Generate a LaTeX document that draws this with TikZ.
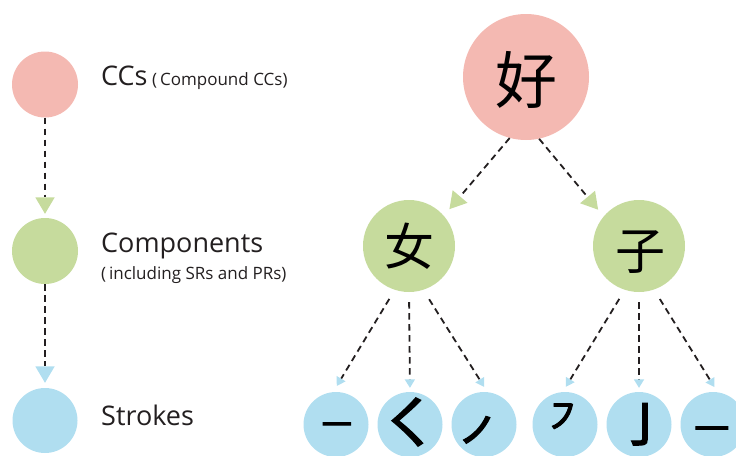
\documentclass[tikz,border=0pt]{standalone}
\usepackage{fontspec}
\setmainfont{Open Sans}
\newfontfamily\cjk{Noto Sans CJK SC}
\newfontfamily\cjkstroke{Noto Sans CJK SC}[FakeBold=2.2]
\usetikzlibrary{arrows.meta}

\definecolor{ccpink}{RGB}{244,185,178}
\definecolor{compgreen}{RGB}{198,219,157}
\definecolor{strokeblue}{RGB}{176,222,240}
\definecolor{inkgray}{RGB}{35,31,32}

\tikzset{
  disc/.style={circle, inner sep=0pt, minimum size=#1, draw=none},
  ccdisc/.style={disc=126pt, fill=ccpink},
  compdisc/.style={disc=92pt, fill=compgreen},
  strokedisc/.style={disc=65pt, fill=strokeblue},
  legpink/.style={disc=66pt, fill=ccpink},
  leggreen/.style={disc=66pt, fill=compgreen},
  legblue/.style={disc=65pt, fill=strokeblue},
  glyph/.style={inner sep=0pt, text=black, font=\cjk\fontsize{#1}{#1}\selectfont},
  strokeglyph/.style={inner sep=0pt, text=black, font=\cjkstroke\fontsize{#1}{#1}\selectfont},
  label/.style={inner sep=0pt, anchor=base west, text=inkgray},
  bigtext/.style={label, font=\fontsize{27}{30}\selectfont},
  smalltext/.style={label, font=\fontsize{17}{20}\selectfont},
  link/.style={draw=inkgray, line width=1.8pt, dash pattern=on 6.5pt off 4.5pt},
  bigtip/.style={-{Triangle[length=16.5pt, width=19.5pt, color=#1, line width=0pt]}},
  smalltip/.style={-{Triangle[length=8.5pt, width=10.5pt, color=#1, line width=0pt]}}
}

\begin{document}
\begin{tikzpicture}[x=1pt, y=-1pt]
  \useasboundingbox (0,0) rectangle (736,455);
  \clip (0,0) rectangle (736,455);

  % ---- legend column ----
  \node[legpink]  (lp) at (45,84.5) {};
  \node[leggreen] (lg) at (45,251) {};
  \node[legblue]  (lb) at (45,420.5) {};

  \draw[link, bigtip=compgreen, shorten >=4pt] (lp.south) -- (lg.north);
  \draw[link, bigtip=strokeblue, shorten >=5pt] (lg.south) -- (lb.north);

  \node[bigtext]   (tcc)    at (101,85)  {CCs};
  \node[smalltext] (tccx)   at (152,85)  {(\,Compound CCs)};
  \node[bigtext]   (tcomp)  at (101,252) {Components};
  \node[smalltext] (tcompx) at (101,279) {(\,including SRs and PRs)};
  \node[bigtext]   (tstr)   at (101,425) {Strokes};

  % ---- character tree ----
  \node[ccdisc]   (hao) at (526,77) {};
  \node[compdisc] (nv)  at (409,246) {};
  \node[compdisc] (zi)  at (639,246) {};

  \node[glyph=62pt] (haoch) at (526,80) {好};
  \node[glyph=50pt] (nvch)  at (409,246) {女};
  \node[glyph=50pt] (zich)  at (640,252) {子};

  \draw[link, bigtip=compgreen, shorten >=8.6pt] (hao.255.7) -- (nv.41.3);
  \draw[link, bigtip=compgreen, shorten >=8.6pt] (hao.282.5) -- (zi.140);

  % ---- strokes ----
  \node[strokedisc] (s1) at (336,424.5) {};
  \node[strokedisc] (s2) at (410,424.5) {};
  \node[strokedisc] (s3) at (484,424.5) {};
  \node[strokedisc] (s4) at (565,424.5) {};
  \node[strokedisc] (s5) at (639,424.5) {};
  \node[strokedisc] (s6) at (713,424.5) {};

  \node[strokeglyph=33pt] (s1ch) at (337,429.5)   {㇐};
  \node[strokeglyph=62pt] (s2ch) at (408,422)     {㇛};
  \node[strokeglyph=52pt] (s3ch) at (485,436.5)   {㇒};
  \node[strokeglyph=40pt] (s4ch) at (563,417.5)   {㇇};
  \node[strokeglyph=56pt] (s5ch) at (638.5,424.5) {㇚};
  \node[strokeglyph=38pt] (s6ch) at (712,434.5)   {㇐};

  \draw[link, smalltip=strokeblue, shorten <=10.5pt, shorten >=7pt] (nv.252.5) -- (s1.95.8);
  \draw[link, smalltip=strokeblue, shorten <=10pt, shorten >=4pt] (nv.270) -- (s2.90);
  \draw[link, smalltip=strokeblue, shorten <=11pt, shorten >=6pt] (nv.288.4) -- (s3.84);
  \draw[link, smalltip=strokeblue, shorten <=10.5pt, shorten >=6pt] (zi.252.5) -- (s4.94.5);
  \draw[link, smalltip=strokeblue, shorten <=10pt, shorten >=4pt] (zi.270) -- (s5.90);
  \draw[link, smalltip=strokeblue, shorten <=11pt, shorten >=6pt] (zi.289) -- (s6.82.6);
\end{tikzpicture}
\end{document}
